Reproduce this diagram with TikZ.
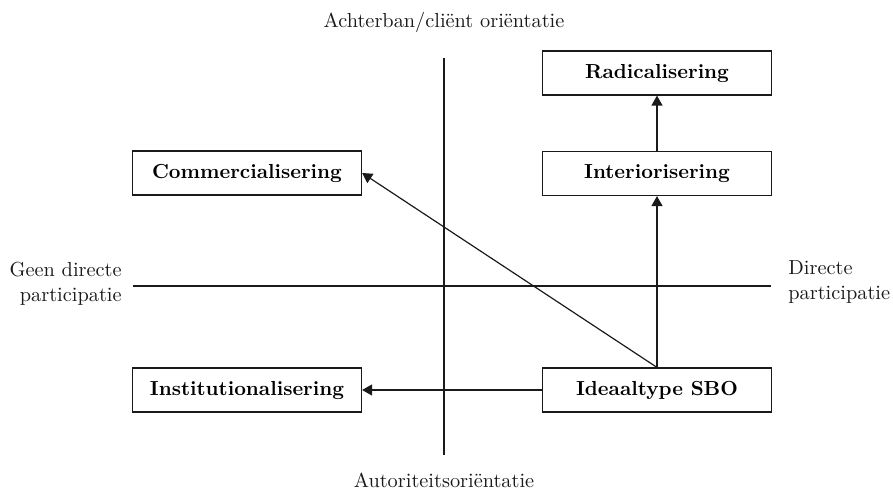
\documentclass[tikz,border=0pt]{standalone}
\usepackage{tikz}
\usetikzlibrary{arrows.meta, positioning, calc}
\definecolor{inkline}{HTML}{1A1A1A}

\begin{document}
\begin{tikzpicture}[x=0.5bp, y=-0.5bp, font=\fontsize{10.2}{12.5}\selectfont,
    phase/.style={draw=inkline, line width=0.6pt, fill=white,
                  minimum width=114.5bp, minimum height=22bp,
                  inner sep=0pt, font=\fontsize{10.2}{12.5}\selectfont\bfseries},
    axislabel/.style={inner sep=0pt, text=inkline},
    link/.style={-{Triangle[length=5bp, width=5.5bp]}, inkline, line width=0.6pt}]
  \useasboundingbox (0,0) rectangle (893,491);
  % axes
  \coordinate (vtop) at (444,58);
  \coordinate (vbot) at (444,455);
  \coordinate (hleft) at (133,286);
  \coordinate (hright) at (771,286);
  \draw[inkline, line width=0.6pt] (vtop) -- (vbot);
  \draw[inkline, line width=0.6pt] (hleft) -- (hright);
  \node[axislabel, anchor=base] (client) at (444,28) {Achterban/cli\"ent ori\"entatie};
  \node[axislabel, anchor=base] (autor) at (444,488) {Autoriteitsori\"entatie};
  \node[axislabel, anchor=east, align=right] (nodirect) at (122,284)
    {Geen directe\\participatie};
  \node[axislabel, anchor=west, align=left] (direct) at (788,282)
    {Directe\\participatie};
  % phases
  \node[phase] (radical) at (657,73) {Radicalisering};
  \node[phase] (inter) at (657,173.5) {Interiorisering};
  \node[phase] (comm) at (247,173) {Commercialisering};
  \node[phase] (instit) at (247,390) {Institutionalisering};
  \node[phase] (ideaal) at (657,390) {Ideaaltype SBO};
  \draw[link] (ideaal.north) -- (inter.south);
  \draw[link] (inter.north) -- (radical.south);
  \draw[link] (ideaal.north) -- (comm.east);
  \draw[link] (ideaal.west) -- (instit.east);
\end{tikzpicture}
\end{document}
